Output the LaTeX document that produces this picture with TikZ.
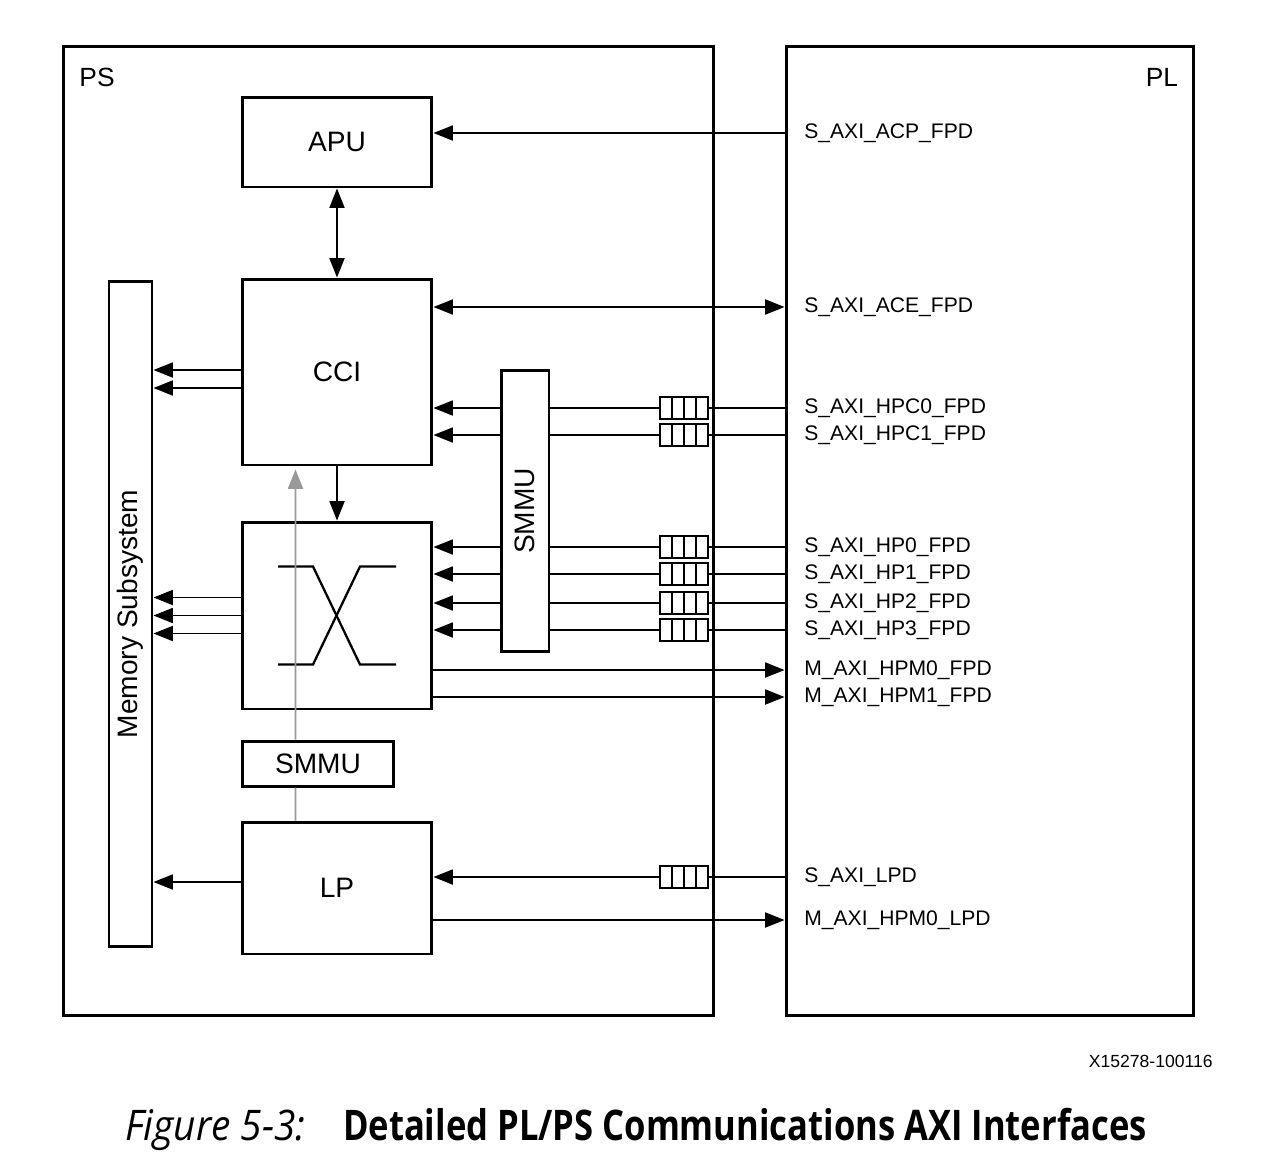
\documentclass[tikz,border=0pt]{standalone}
\usepackage{fontspec}
\setmainfont{Liberation Sans}
\newfontfamily\captionfont[FakeStretch=0.82]{Open Sans}
\newfontfamily\captionitfont[FakeStretch=0.92]{Open Sans}
\usetikzlibrary{calc}
\usetikzlibrary{arrows.meta}

\begin{document}
\begin{tikzpicture}[
  x=0.02cm, y=-0.02cm,
  >={Triangle[length=11pt,width=8.5pt]},   % filled arrow tips
  region/.style={rectangle, draw, line width=1.7pt, minimum width=#1, minimum height=19.4cm},
  block/.style={rectangle, draw, line width=1.7pt, minimum width=3.8cm, inner sep=1pt, font=\fontsize{16}{19}\selectfont},
  port/.style={anchor=west, inner sep=0pt, font=\fontsize{12}{14}\selectfont},
  queue/.style={rectangle, draw, fill=white, line width=0.8pt, minimum width=0.96cm, minimum height=0.44cm, inner sep=0pt,
    path picture={\foreach \k in {1,2,3} \draw[line width=0.8pt] ([xshift=\k*0.24cm]path picture bounding box.north west) -- ([xshift=\k*0.24cm]path picture bounding box.south west);}},
  wire/.style={line width=1.1pt}
]
\useasboundingbox (0,0) rectangle (1284,1164);

% Nodes
\node[region=13.02cm] (ps) at (388.5,531) {};
\node[region=8.16cm]  (pl) at (990,531) {};
\node[font=\fontsize{15}{18}\selectfont] (pstext) at (97,77) {PS};
\node[font=\fontsize{15}{18}\selectfont] (pltext) at (1162,77) {PL};

\node[block, minimum height=1.8cm]  (apu)  at (337,142)   {APU};
\node[block, minimum height=3.72cm] (cci)  at (337,372)   {CCI};
\node[block, minimum height=3.74cm] (xbar) at (337,615.5) {};
\node[block, minimum width=3.04cm, minimum height=0.9cm] (mmu) at (318,763.5) {SMMU};
\node[block, minimum height=2.64cm] (lp)   at (337,888)   {LP};
\node[block, rotate=90, minimum width=13.32cm, minimum height=0.86cm] (mem)  at (130.5,614) {Memory Subsystem};
\node[block, rotate=90, minimum width=5.64cm, minimum height=0.96cm]  (smmu) at (525,511)   {SMMU};

\node[port] (acp)   at (804,133) {S\_AXI\_ACP\_FPD};
\node[port] (ace)   at (804,307) {S\_AXI\_ACE\_FPD};
\node[port] (hpm0)  at (804,670) {M\_AXI\_HPM0\_FPD};
\node[port] (hpm1)  at (804,697) {M\_AXI\_HPM1\_FPD};
\node[port] (lpd)   at (804,877) {S\_AXI\_LPD};
\node[port] (hpml)  at (804,920) {M\_AXI\_HPM0\_LPD};
\node[queue] (qlpd) at (684,877) {};

% crossbar symbol
\draw[line width=1.3pt] ($(xbar.center)+(-59,-49)$) -- ++(35,0) -- ++(47,98) -- ++(36,0);
\draw[line width=1.3pt] ($(xbar.center)+(-59,49)$) -- ++(35,0) -- ++(47,-98) -- ++(36,0);

% Edges
\draw[wire,->]  (pl.west |- acp) -- (apu.east |- acp);
\draw[wire,<->] (apu.south) -- (cci.north);
\draw[wire,<->] (cci.east |- ace) -- (pl.west |- ace);
\draw[wire,->]  (cci.south) -- (xbar.north);

% smmu is turned: its south is the right side, its north the left side
\foreach \n/\yy/\txt/\tgt in {hpc0/408/S\_AXI\_HPC0\_FPD/cci, hpc1/435/S\_AXI\_HPC1\_FPD/cci,
    hp0/547/S\_AXI\_HP0\_FPD/xbar, hp1/574/S\_AXI\_HP1\_FPD/xbar,
    hp2/603/S\_AXI\_HP2\_FPD/xbar, hp3/630/S\_AXI\_HP3\_FPD/xbar}{
  \node[port]  (p\n) at (804,\yy) {\txt};
  \node[queue] (q\n) at (684,\yy) {};
  \draw[wire] (pl.west |- q\n) -- (q\n.east);
  \draw[wire] (q\n.west) -- (smmu.south |- q\n);
  \draw[wire,->] (smmu.north |- q\n) -- (\tgt.east |- q\n);
}

\draw[wire,->] (xbar.east |- hpm0) -- (pl.west |- hpm0);
\draw[wire,->] (xbar.east |- hpm1) -- (pl.west |- hpm1);
\draw[wire] (pl.west |- qlpd) -- (qlpd.east);
\draw[wire,->] (qlpd.west) -- (lp.east |- qlpd);
\draw[wire,->] (lp.east |- hpml) -- (pl.west |- hpml);

% to memory subsystem
\foreach \dy in {-2,16} \draw[wire,->] ($(cci.west)+(0,\dy)$) coordinate (m) -- (m -| mem.south);
\foreach \dy in {-18,0,18} \draw[wire,->] ($(xbar.west)+(0,\dy)$) coordinate (m) -- (m -| mem.south);
\draw[wire,->] ($(lp.west)+(0,-6)$) coordinate (m) -- (m -| mem.south);

% LP path through SMMU
\draw[wire, gray!80] ([xshift=1.1cm]lp.north west) -- ([xshift=1.1cm]mmu.south west);
\draw[wire, gray!80, ->] ([xshift=1.1cm]mmu.north west) -- ([xshift=1.1cm, yshift=-0.06cm]cci.south west);

% caption
\node[anchor=east, inner sep=0pt, font=\fontsize{10}{12}\selectfont] (fignum) at (1213,1061) {X15278-100116};
\node[anchor=west, inner sep=0pt, font=\fontsize{24}{28}\selectfont] (caption) at (125,1129)
  {\captionitfont\itshape Figure 5-3:\hspace{0.75cm}\captionfont\upshape\bfseries Detailed PL/PS Communications AXI Interfaces};
\end{tikzpicture}
\end{document}
